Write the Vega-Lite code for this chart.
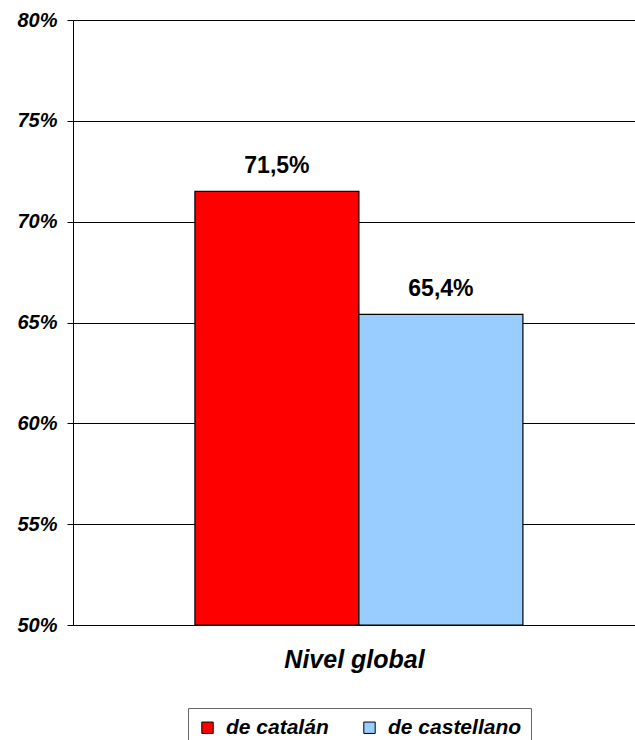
{
  "$schema": "https://vega.github.io/schema/vega-lite/v6.json",
  "autosize": "none",
  "width": 562,
  "height": 605,
  "padding": {"left": 73, "top": 20, "right": 0, "bottom": 115},
  "background": "white",
  "data": {
    "values": [
      {"grupo": "Nivel global", "serie": "de catalán", "valor": 0.715},
      {"grupo": "Nivel global", "serie": "de castellano", "valor": 0.654}
    ]
  },
  "encoding": {
    "x": {
      "field": "grupo",
      "type": "nominal",
      "scale": {"paddingInner": 0, "paddingOuter": 0.3567, "align": 0.521},
      "axis": {
        "title": "Nivel global",
        "labels": false,
        "ticks": false,
        "domainColor": "black",
        "titleFont": "Liberation Sans",
        "titleFontSize": 25,
        "titleFontWeight": "bold",
        "titleFontStyle": "italic",
        "titleColor": "black",
        "titlePadding": 22
      }
    },
    "xOffset": {
      "field": "serie",
      "type": "nominal",
      "scale": {"domain": ["de catalán", "de castellano"], "paddingInner": 0, "paddingOuter": 0}
    },
    "y": {
      "field": "valor",
      "type": "quantitative",
      "scale": {"domain": [0.5, 0.8], "zero": false, "nice": false},
      "axis": {
        "title": null,
        "values": [0.5, 0.55, 0.6, 0.65, 0.7, 0.75, 0.8],
        "format": ".0%",
        "grid": true,
        "gridColor": "black",
        "gridOpacity": 1,
        "domainColor": "black",
        "tickColor": "black",
        "tickSize": 6,
        "labelPadding": 10,
        "labelFont": "Liberation Sans",
        "labelFontSize": 20,
        "labelFontWeight": "bold",
        "labelFontStyle": "italic",
        "labelColor": "black"
      }
    }
  },
  "layer": [
    {
      "mark": {"type": "bar", "stroke": "black", "strokeWidth": 1.2},
      "encoding": {
        "y2": {"datum": 0.5},
        "color": {
          "field": "serie",
          "type": "nominal",
          "scale": {"domain": ["de catalán", "de castellano"], "range": ["#FF0000", "#99CCFF"]},
          "legend": {
            "title": null,
            "orient": "none",
            "legendX": 115,
            "legendY": 688,
            "direction": "horizontal",
            "strokeColor": "#666666",
            "fillColor": "white",
            "padding": 9,
            "symbolType": "square",
            "symbolSize": 130,
            "symbolStrokeColor": "black",
            "symbolStrokeWidth": 1,
            "symbolOpacity": 1,
            "labelFont": "Liberation Sans",
            "labelFontSize": 21,
            "labelFontWeight": "bold",
            "labelFontStyle": "italic",
            "labelColor": "black",
            "labelOffset": 8,
            "columnPadding": 30
          }
        }
      }
    },
    {
      "mark": {
        "type": "text",
        "baseline": "alphabetic",
        "dy": -18,
        "font": "Liberation Sans",
        "fontSize": 23,
        "fontWeight": "bold",
        "color": "black"
      },
      "encoding": {
        "text": {"field": "valor", "type": "quantitative", "format": ".1%"}
      }
    }
  ],
  "config": {
    "view": {"stroke": null},
    "locale": {
      "number": {"decimal": ",", "thousands": ".", "grouping": [3], "currency": ["", " €"]}
    }
  }
}
